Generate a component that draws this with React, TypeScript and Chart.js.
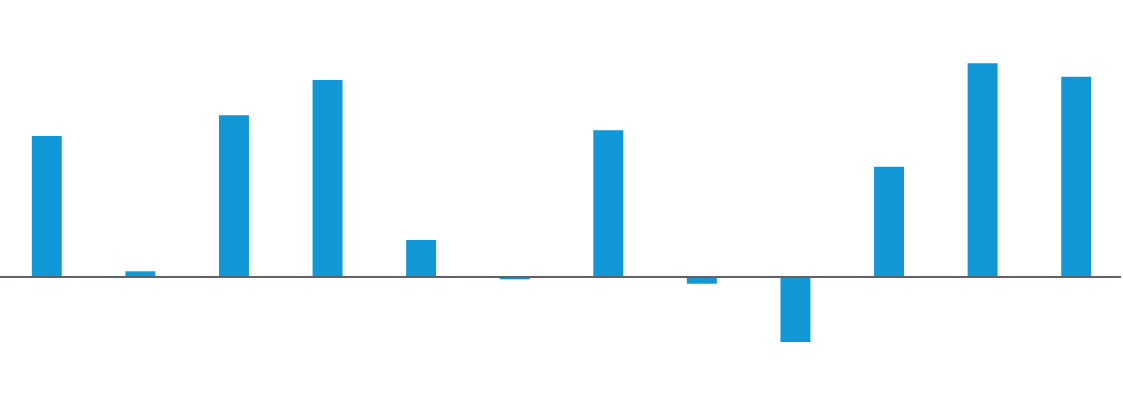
import React, { useEffect, useRef } from "react";
import { Chart, registerables } from "chart.js";

Chart.register(...registerables);

const categories = ["1", "2", "3", "4", "5", "6", "7", "8", "9", "10", "11", "12"];
const values = [14.1, 0.57, 16.17, 19.7, 3.7, -0.23, 14.67, -0.67, -6.5, 11.03, 21.37, 20.03];
const yMin = -13.9;
const yMax = 27.7;

const zeroLinePlugin = {
  id: "zeroLine",
  afterDatasetsDraw(chart: any) {
    const { ctx, chartArea, scales } = chart;
    const y = scales.y.getPixelForValue(0);
    ctx.save();
    ctx.strokeStyle = "#5f6368";
    ctx.lineWidth = 2;
    ctx.beginPath();
    ctx.moveTo(chartArea.left, y);
    ctx.lineTo(chartArea.right - 2, y);
    ctx.stroke();
    ctx.restore();
  },
};

export default function App() {
  const ref = useRef<HTMLCanvasElement>(null);
  useEffect(() => {
    if (!ref.current) return;
    const chart = new Chart(ref.current, {
      type: "bar",
      data: {
        labels: categories,
        datasets: [
          {
            data: values,
            backgroundColor: "#1197d6",
            borderWidth: 0,
            categoryPercentage: 0.8,
            barPercentage: 0.4,
          },
        ],
      },
      options: {
        animation: false,
        responsive: false,
        maintainAspectRatio: false,
        layout: { padding: 0 },
        plugins: { legend: { display: false }, tooltip: { enabled: false } },
        scales: {
          x: { display: false },
          y: { display: false, min: yMin, max: yMax },
        },
      },
      plugins: [zeroLinePlugin],
    });
    return () => chart.destroy();
  }, []);
  return (
    <div style={{ position: "absolute", left: 0, top: 0, width: 1123, height: 416, background: "#fff" }}>
      <canvas ref={ref} width={1123} height={416} style={{ display: "block" }} />
    </div>
  );
}
